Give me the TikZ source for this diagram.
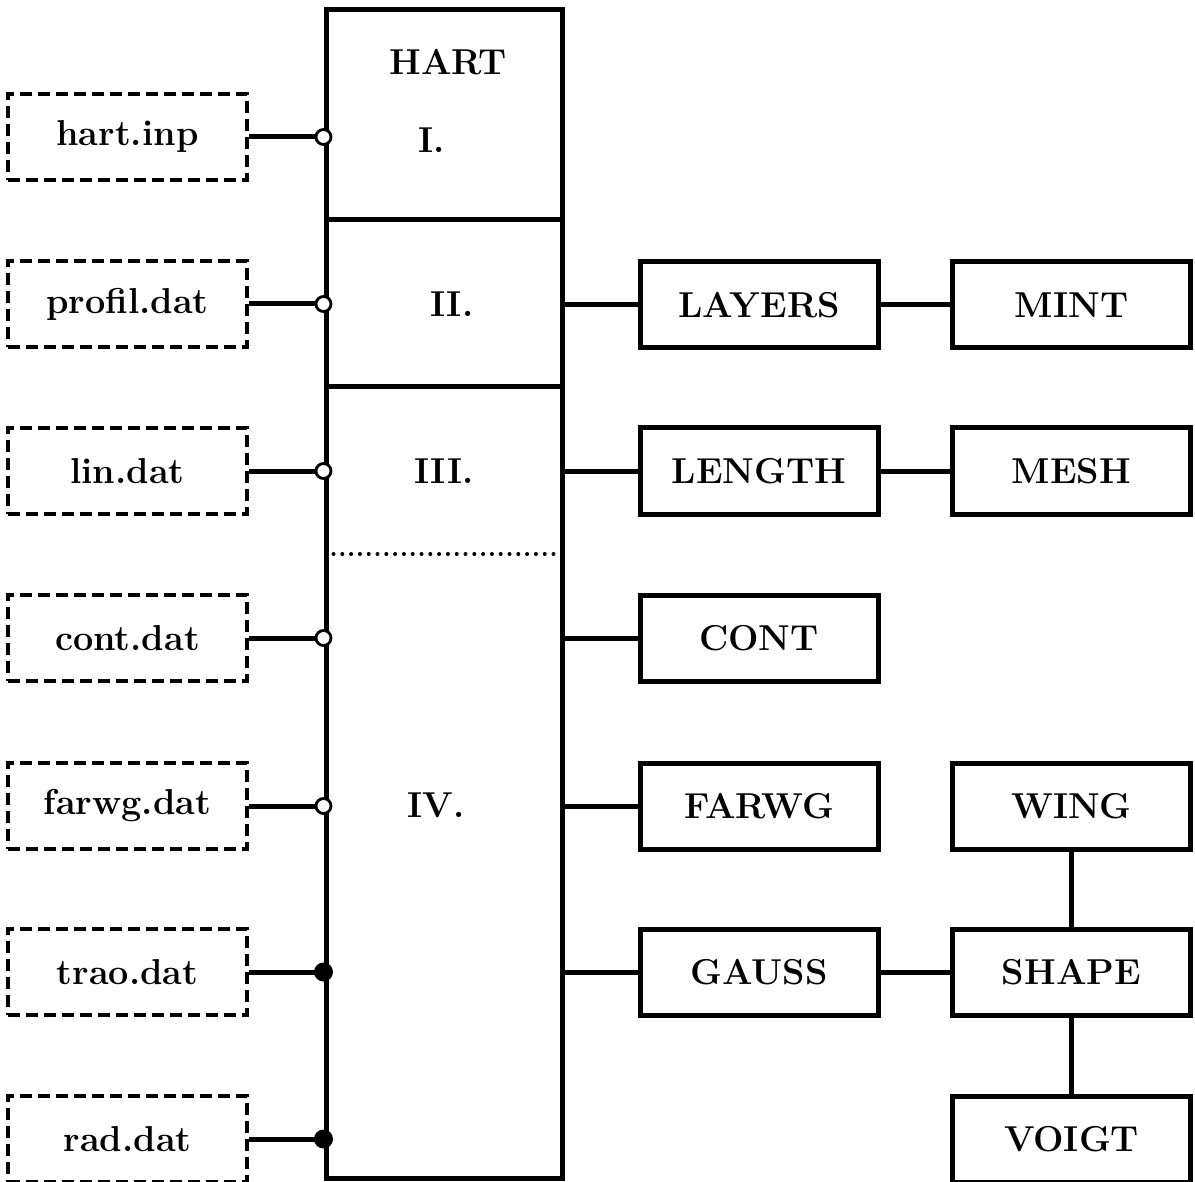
\documentclass[tikz,border=0pt]{standalone}
\usepackage{tikz}
\usetikzlibrary{positioning}

\begin{document}
\begin{tikzpicture}[
    x=0.5pt, y=-0.5pt,
    line width=2.5pt,
    font=\fontsize{18}{21}\selectfont\bfseries,
    module/.style={draw, minimum width=119pt, minimum height=43pt, inner sep=0pt},
    datafile/.style={draw, line width=2.2pt, dash pattern=on 6pt off 3pt, minimum width=119.5pt, minimum height=43pt, inner sep=0pt},
    opendot/.style={circle, draw, fill=white, line width=1.4pt, minimum size=7.5pt, inner sep=0pt},
    fulldot/.style={circle, fill, minimum size=9.5pt, inner sep=0pt}
  ]
    \useasboundingbox (0,0) rectangle (1195,1182);

    % main program block
    \node[draw, minimum width=118pt, minimum height=584pt, inner sep=0pt] (hart) at (444,594) {};
    \draw (hart.west |- 0,220) -- (hart.east |- 0,220);
    \draw (hart.west |- 0,387) -- (hart.east |- 0,387);
    \draw[line width=2pt, dash pattern=on 0pt off 4.4pt, line cap=round] ([xshift=5pt]hart.west |- 0,554) -- ([xshift=-2pt]hart.east |- 0,554);
    \node (lblhart) at (448,62) {HART};
    \node (lbl1) at (432,140) {I.};
    \node (lbl2) at (452,304) {II.};
    \node (lbl3) at (444,471) {III.};
    \node (lbl4) at (436,805) {IV.};

    % data files
    \node[datafile] (inp) at (127.5,137) {hart.inp};
    \node[datafile] (profil) at (127.5,304) {profil.dat};
    \node[datafile] (lin) at (127.5,471) {lin.dat};
    \node[datafile] (cont) at (127.5,638) {cont.dat};
    \node[datafile] (farwgdat) at (127.5,806) {farwg.dat};
    \node[datafile] (trao) at (127.5,972) {trao.dat};
    \node[datafile] (rad) at (127.5,1139) {rad.dat};

    % subroutines
    \node[module] (layers) at (759,305) {LAYERS};
    \node[module] (mint) at (1071.5,305) {MINT};
    \node[module] (length) at (759,471) {LENGTH};
    \node[module] (mesh) at (1071.5,471) {MESH};
    \node[module] (contm) at (759,638) {CONT};
    \node[module] (farwg) at (759,806) {FARWG};
    \node[module] (wing) at (1071.5,806) {WING};
    \node[module] (gauss) at (759,972) {GAUSS};
    \node[module] (shape) at (1071.5,972) {SHAPE};
    \node[module] (voigt) at (1071.5,1139) {VOIGT};

    \draw (inp) -- (inp -| hart.west) node[opendot] (d1) {};
    \draw (profil) -- (profil -| hart.west) node[opendot] (d2) {};
    \draw (lin) -- (lin -| hart.west) node[opendot] (d3) {};
    \draw (cont) -- (cont -| hart.west) node[opendot] (d4) {};
    \draw (farwgdat) -- (farwgdat -| hart.west) node[opendot] (d5) {};
    \draw (trao) -- (trao -| hart.west) node[fulldot] (d6) {};
    \draw (rad) -- (rad -| hart.west) node[fulldot] (d7) {};

    \draw (hart.east |- layers) -- (layers);
    \draw (hart.east |- length) -- (length);
    \draw (hart.east |- contm) -- (contm);
    \draw (hart.east |- farwg) -- (farwg);
    \draw (hart.east |- gauss) -- (gauss);
    \draw (layers) -- (mint);
    \draw (length) -- (mesh);
    \draw (gauss) -- (shape);
    \draw (wing) -- (shape);
    \draw (shape) -- (voigt);
  \end{tikzpicture}
\end{document}
